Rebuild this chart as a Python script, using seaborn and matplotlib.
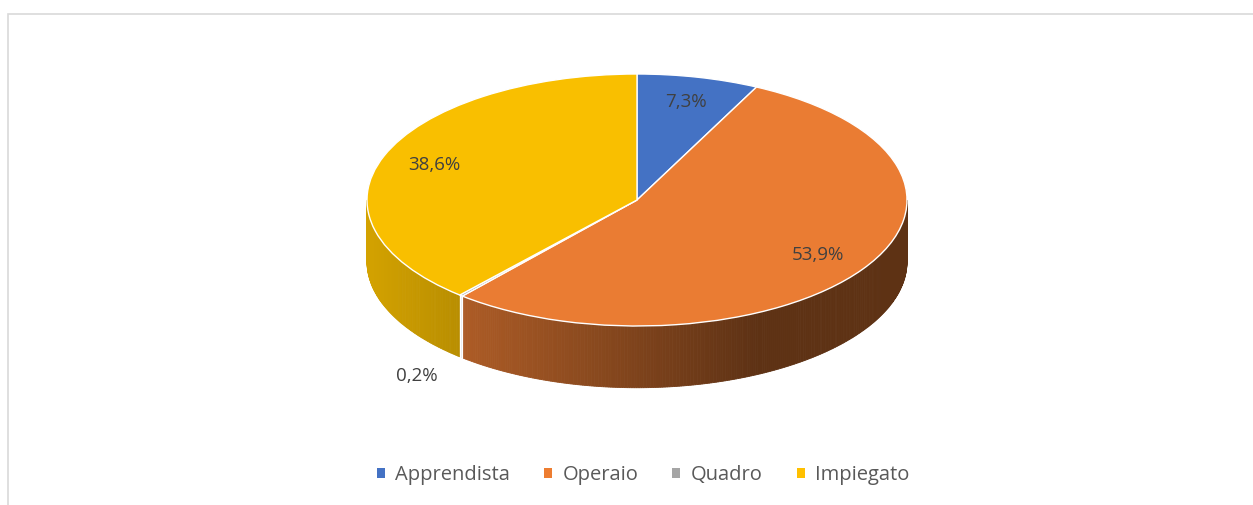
import numpy as np
import matplotlib
matplotlib.use('Agg')
import matplotlib.pyplot as plt
import seaborn as sns
from matplotlib.patches import Patch, Rectangle
from matplotlib.colors import to_rgb

# dati
categorie = ['Apprendista', 'Operaio', 'Quadro', 'Impiegato']
valori = [7.3, 53.9, 0.2, 38.6]
colori = ['#4472C4', '#EA7C33', '#A5A5A5', '#F9BF00']

sns.set_theme(style='white')
plt.rcParams['font.family'] = ['Open Sans', 'DejaVu Sans']

fig = plt.figure(figsize=(12.53, 5.05), dpi=100)
ax = fig.add_axes([0, 0, 1, 1])

# bordo del grafico (solo alto e sinistra visibili)
fig.patches.append(Rectangle((8 / 1253, -0.2), 1.2, 1.2 - 14 / 505,
                             transform=fig.transFigure, fill=False,
                             edgecolor='#D9D9D9', linewidth=1.2))

spessore = 0.49

wedges, testi, autotesti = ax.pie(valori, colors=colori, startangle=90, counterclock=False,
                                  autopct=lambda p: f'{p:.1f}%'.replace('.', ','),
                                  pctdistance=0.8,
                                  wedgeprops=dict(edgecolor='white', linewidth=1),
                                  textprops=dict(color='#404040', fontsize=13.5))
for w in wedges:
    w.set_zorder(3)

# parete laterale (effetto 3D)
def fattore(x):
    return 0.85 - 0.45 * np.clip((x + 1) / 1.45, 0, 1)

for w, c in zip(wedges, colori):
    base = np.array(to_rgb(c))
    for k in (-360, 0, 360):
        lo = max(w.theta1 + k, -180)
        hi = min(w.theta2 + k, 0)
        if hi <= lo:
            continue
        ang = np.radians(np.linspace(lo, hi, max(int((hi - lo) * 2), 2)))
        for a1, a2 in zip(ang[:-1], ang[1:]):
            xm = (np.cos(a1) + np.cos(a2)) / 2
            col = base * fattore(xm)
            if c == '#A5A5A5':
                col = np.array([0.92, 0.92, 0.92])
            xs = [np.cos(a1), np.cos(a2), np.cos(a2), np.cos(a1)]
            ys = [np.sin(a1), np.sin(a2), np.sin(a2) - spessore, np.sin(a1) - spessore]
            ax.fill(xs, ys, color=col, lw=0.6, zorder=1)
        for a in (lo, hi):
            if -179 < a < -1:
                r = np.radians(a)
                ax.plot([np.cos(r), np.cos(r)], [np.sin(r), np.sin(r) - spessore],
                        color='white', lw=0.8, zorder=2)

# etichetta esterna per la fetta piccola
w = wedges[2]
mid = np.radians((w.theta1 + w.theta2) / 2)
autotesti[2].set_position((1.25 * np.cos(mid), 1.2 * np.sin(mid) - spessore))

ax.set_aspect('auto')
ax.set_xlim(-637 / 270, -637 / 270 + 1253 / 270)
ax.set_ylim(-305 / 126, -305 / 126 + 505 / 126)
ax.axis('off')

handles = [Patch(facecolor=c, edgecolor='none') for c in ['#4472C4', '#ED7D31', '#A5A5A5', '#FFC000']]
fig.legend(handles, categorie, loc='center', bbox_to_anchor=(643 / 1253, 30 / 505), ncol=4,
           frameon=False, fontsize=14.5, handlelength=0.4, handleheight=0.4,
           handletextpad=0.5, columnspacing=1.7, labelcolor='#595959')

fig.savefig('out.png', dpi=100)
